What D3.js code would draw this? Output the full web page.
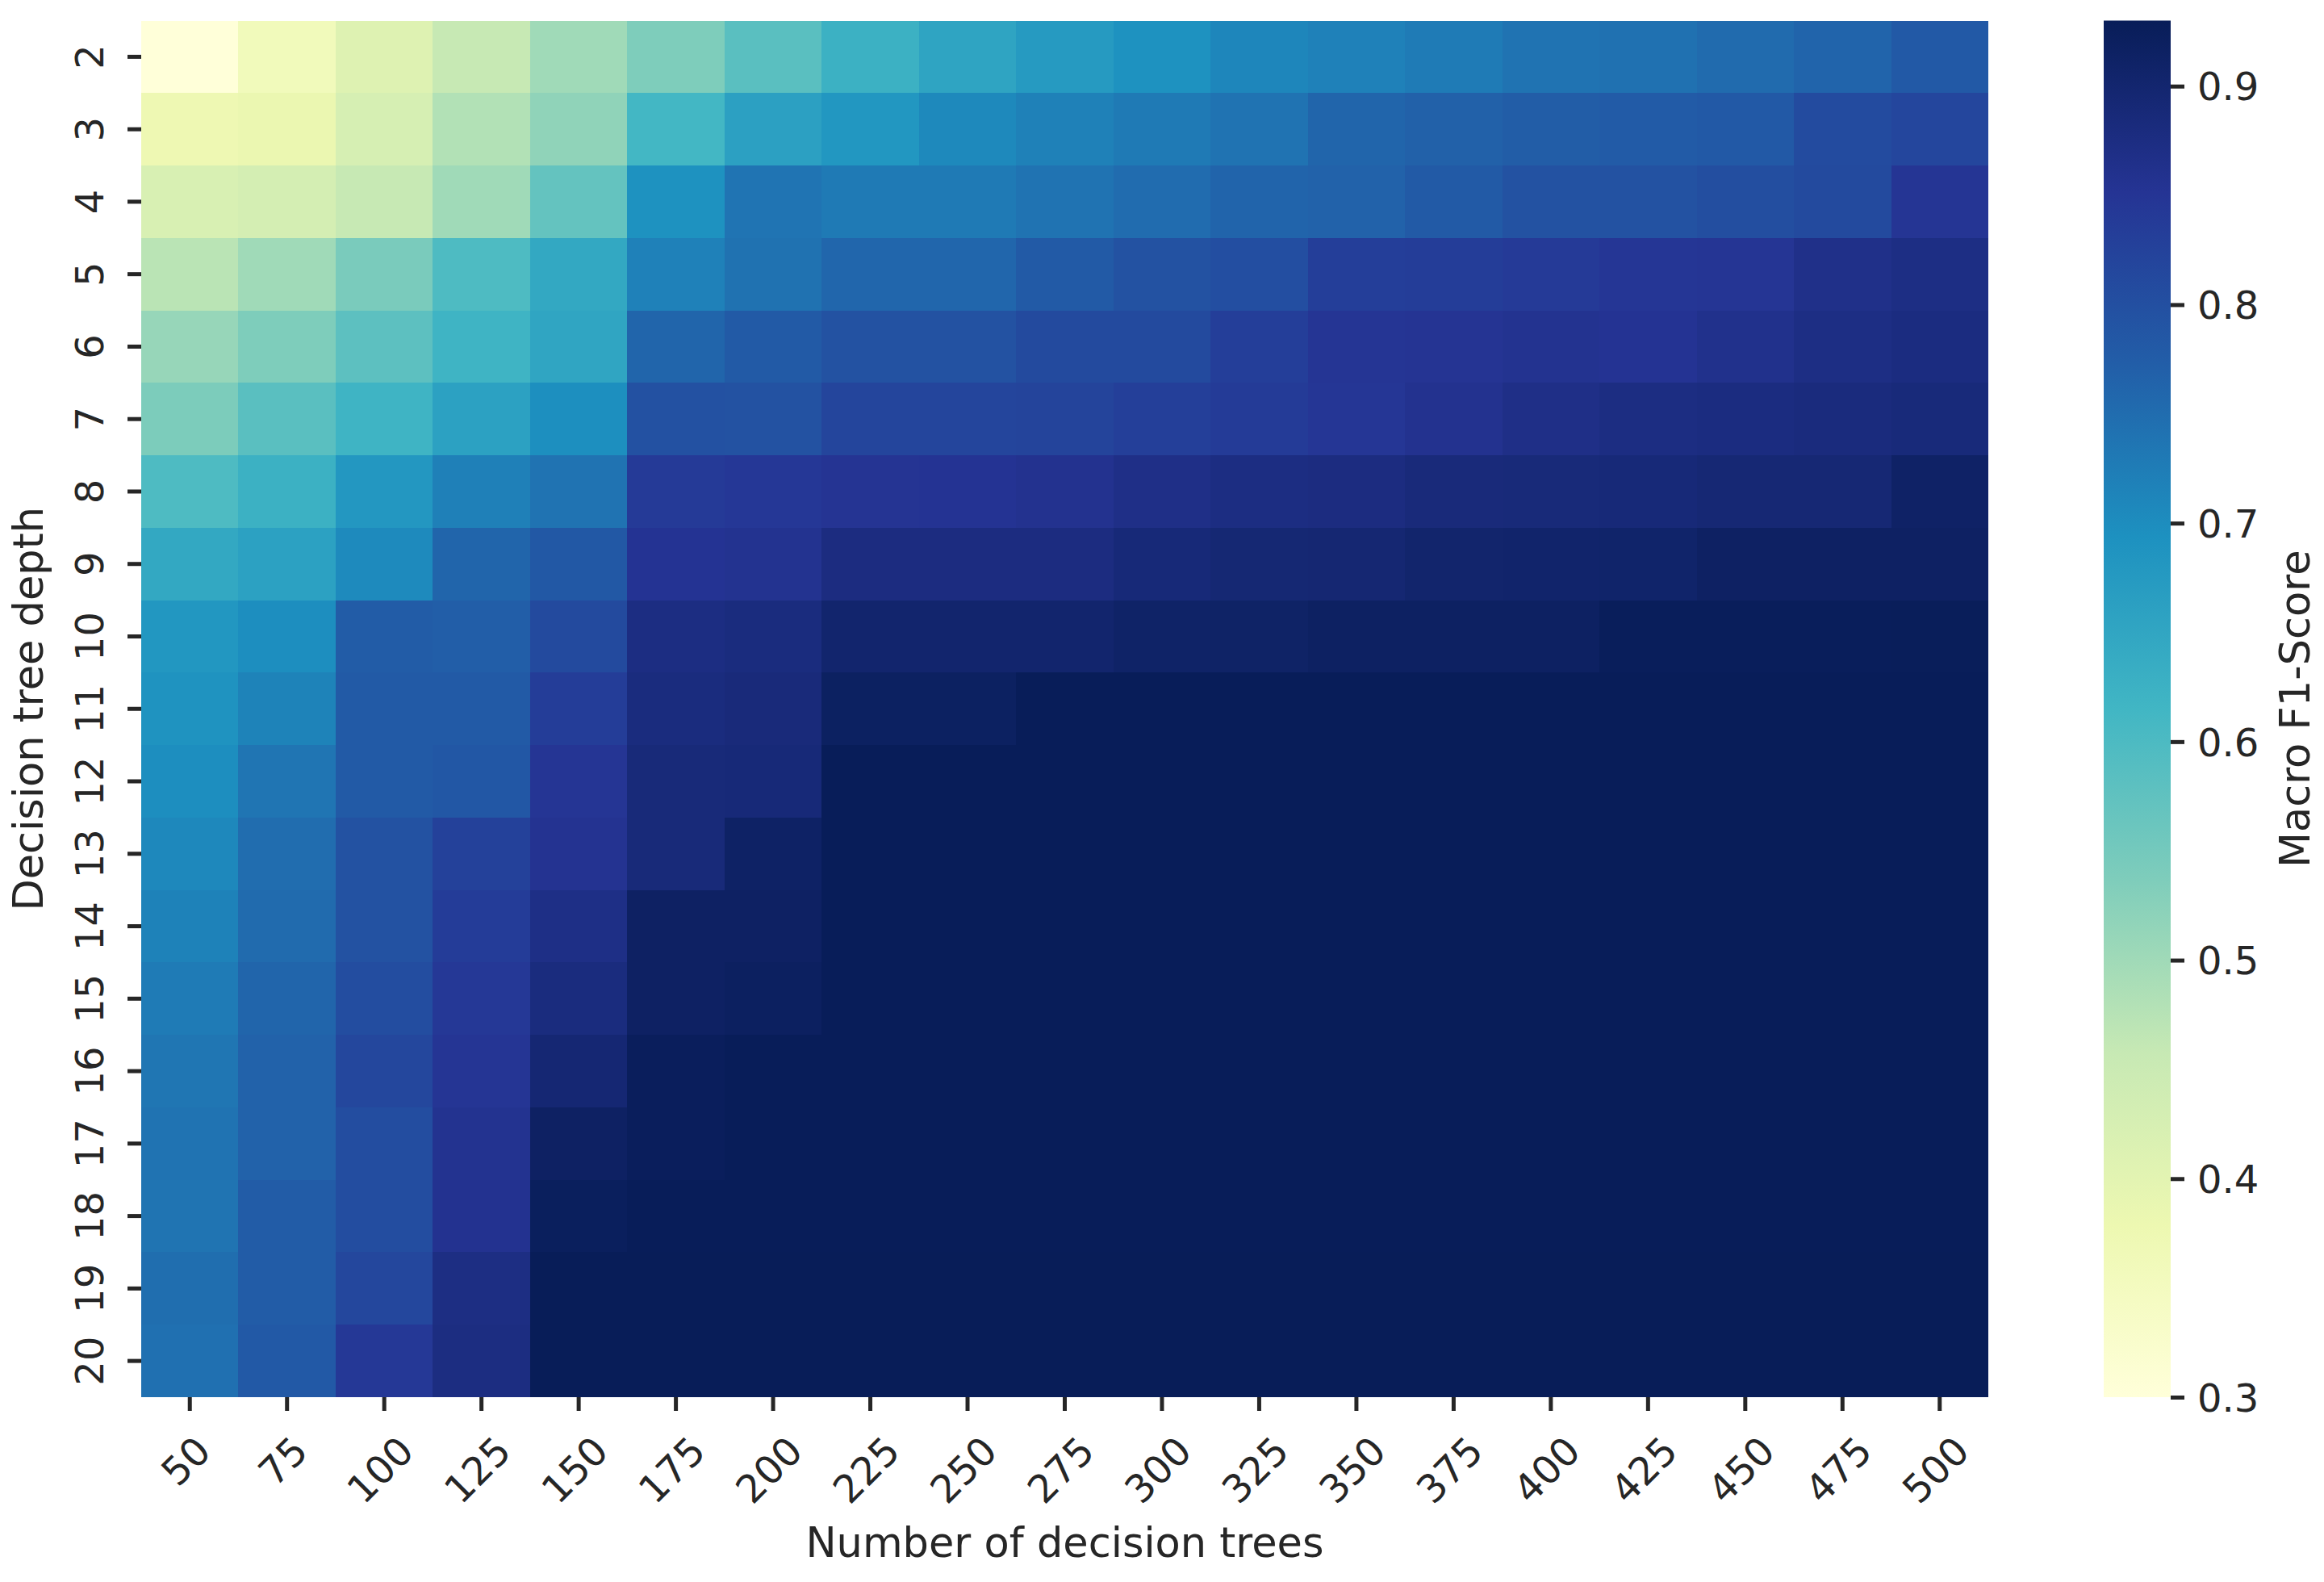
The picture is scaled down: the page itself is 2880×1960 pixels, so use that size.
<!DOCTYPE html>
<html>
<head>
<meta charset="utf-8">
<script src="https://cdn.jsdelivr.net/npm/d3@7"></script>
<style>
  body { margin: 0; background: #ffffff; }
  svg text { font-family: "DejaVu Sans", sans-serif; }
</style>
</head>
<body>
<svg id="chart" width="2880" height="1960"></svg>
<script>
// Grid search results: random forest, Macro F1 per (depth, n_trees)

const nTrees = [50, 75, 100, 125, 150, 175, 200, 225, 250, 275, 300, 325, 350, 375, 400, 425, 450, 475, 500];
const depths = [2, 3, 4, 5, 6, 7, 8, 9, 10, 11, 12, 13, 14, 15, 16, 17, 18, 19, 20];

// one row per depth, one value per number of trees
const macroF1 = [
  [0.300, 0.360, 0.410, 0.457, 0.500, 0.537, 0.583, 0.626, 0.654, 0.674, 0.692, 0.711, 0.718, 0.728, 0.740, 0.743, 0.752, 0.763, 0.782],
  [0.375, 0.382, 0.426, 0.481, 0.518, 0.612, 0.661, 0.682, 0.706, 0.719, 0.729, 0.740, 0.762, 0.768, 0.775, 0.778, 0.782, 0.808, 0.817],
  [0.422, 0.430, 0.457, 0.500, 0.570, 0.692, 0.738, 0.730, 0.730, 0.740, 0.751, 0.764, 0.766, 0.780, 0.795, 0.795, 0.803, 0.810, 0.850],
  [0.472, 0.500, 0.543, 0.598, 0.645, 0.718, 0.742, 0.760, 0.760, 0.780, 0.795, 0.802, 0.832, 0.835, 0.840, 0.848, 0.850, 0.866, 0.872],
  [0.510, 0.537, 0.580, 0.620, 0.652, 0.762, 0.780, 0.795, 0.795, 0.810, 0.810, 0.832, 0.850, 0.852, 0.856, 0.853, 0.862, 0.872, 0.878],
  [0.540, 0.583, 0.620, 0.660, 0.697, 0.797, 0.795, 0.820, 0.820, 0.822, 0.830, 0.838, 0.848, 0.858, 0.868, 0.875, 0.878, 0.882, 0.886],
  [0.598, 0.625, 0.680, 0.720, 0.740, 0.840, 0.845, 0.852, 0.853, 0.858, 0.868, 0.875, 0.877, 0.885, 0.887, 0.888, 0.893, 0.893, 0.912],
  [0.645, 0.660, 0.705, 0.762, 0.783, 0.853, 0.856, 0.877, 0.877, 0.877, 0.888, 0.894, 0.896, 0.904, 0.905, 0.907, 0.915, 0.915, 0.915],
  [0.682, 0.698, 0.777, 0.772, 0.810, 0.875, 0.880, 0.903, 0.903, 0.903, 0.910, 0.911, 0.917, 0.917, 0.917, 0.926, 0.926, 0.926, 0.927],
  [0.690, 0.716, 0.780, 0.780, 0.835, 0.880, 0.885, 0.918, 0.918, 0.929, 0.929, 0.929, 0.929, 0.929, 0.929, 0.929, 0.929, 0.929, 0.929],
  [0.698, 0.737, 0.780, 0.785, 0.850, 0.887, 0.888, 0.929, 0.929, 0.929, 0.929, 0.929, 0.929, 0.929, 0.929, 0.929, 0.929, 0.929, 0.929],
  [0.707, 0.749, 0.795, 0.826, 0.855, 0.887, 0.913, 0.929, 0.929, 0.929, 0.929, 0.929, 0.929, 0.929, 0.929, 0.929, 0.929, 0.929, 0.929],
  [0.717, 0.752, 0.795, 0.836, 0.870, 0.915, 0.915, 0.929, 0.929, 0.929, 0.929, 0.929, 0.929, 0.929, 0.929, 0.929, 0.929, 0.929, 0.929],
  [0.728, 0.762, 0.805, 0.843, 0.880, 0.915, 0.920, 0.929, 0.929, 0.929, 0.929, 0.929, 0.929, 0.929, 0.929, 0.929, 0.929, 0.929, 0.929],
  [0.736, 0.766, 0.815, 0.850, 0.895, 0.925, 0.929, 0.929, 0.929, 0.929, 0.929, 0.929, 0.929, 0.929, 0.929, 0.929, 0.929, 0.929, 0.929],
  [0.740, 0.767, 0.805, 0.856, 0.915, 0.925, 0.929, 0.929, 0.929, 0.929, 0.929, 0.929, 0.929, 0.929, 0.929, 0.929, 0.929, 0.929, 0.929],
  [0.739, 0.777, 0.805, 0.857, 0.924, 0.929, 0.929, 0.929, 0.929, 0.929, 0.929, 0.929, 0.929, 0.929, 0.929, 0.929, 0.929, 0.929, 0.929],
  [0.748, 0.777, 0.815, 0.873, 0.930, 0.930, 0.930, 0.930, 0.930, 0.930, 0.930, 0.930, 0.930, 0.930, 0.930, 0.930, 0.930, 0.930, 0.930],
  [0.744, 0.782, 0.843, 0.876, 0.930, 0.930, 0.930, 0.930, 0.930, 0.930, 0.930, 0.930, 0.930, 0.930, 0.930, 0.930, 0.930, 0.930, 0.930],
];

const colorbarTicks = [0.3, 0.4, 0.5, 0.6, 0.7, 0.8, 0.9];

// matplotlib YlGnBu anchors (linear segmented)
const ylgnbu = ["#ffffd9", "#edf8b1", "#c7e9b4", "#7fcdbb", "#41b6c4", "#1d91c0", "#225ea8", "#253494", "#081d58"];

const TXT = "#262626";
const tickFont = 48;
const labelFont = 51;

const svg = d3.select("#chart");

// plot area
const heat = { left: 175, right: 2464, top: 25.5, bottom: 1731 };
const cbar = { left: 2607, right: 2690 };

const x = d3.scaleBand().domain(nTrees).range([heat.left, heat.right]);
const y = d3.scaleBand().domain(depths).range([heat.top, heat.bottom]);

const vmin = d3.min(macroF1, (r) => d3.min(r));
const vmax = d3.max(macroF1, (r) => d3.max(r));

const color = d3
  .scaleLinear()
  .domain(ylgnbu.map((_, i) => vmin + (i / (ylgnbu.length - 1)) * (vmax - vmin)))
  .range(ylgnbu)
  .interpolate(d3.interpolateRgb)
  .clamp(true);

// flatten for the cells
const cells = [];
macroF1.forEach((row, i) => {
  row.forEach((v, j) => {
    cells.push({ depth: depths[i], trees: nTrees[j], value: v });
  });
});

svg
  .append("g")
  .selectAll("rect")
  .data(cells)
  .join("rect")
  .attr("x", (d) => x(d.trees))
  .attr("y", (d) => y(d.depth))
  .attr("width", x.bandwidth())
  .attr("height", y.bandwidth())
  .attr("fill", (d) => color(d.value))
  .attr("shape-rendering", "crispEdges");

/**
 * common styling for the d3 axes
 * @param {d3.Selection} g
 */
function styleAxis(g) {
  g.select(".domain").remove();
  g.attr("font-family", "DejaVu Sans").attr("font-size", tickFont);
  g.selectAll(".tick line").attr("stroke", TXT).attr("stroke-width", 5);
  g.selectAll(".tick text").attr("fill", TXT);
}

// x axis, labels rotated 45deg, centred under the tick
const lineH = 1.164 * tickFont;
const xAxis = svg
  .append("g")
  .attr("transform", `translate(0,${heat.bottom})`)
  .call(d3.axisBottom(x).tickSize(17).tickSizeOuter(0))
  .call(styleAxis);

xAxis
  .selectAll(".tick text")
  .attr("x", 0)
  .attr("y", 0)
  .attr("dy", "0.35em")
  .attr("text-anchor", "middle")
  .attr("transform", function () {
    let w = this.getComputedTextLength();
    let cy = 38 + (w + lineH) * 0.3536;
    return `translate(-5,${cy}) rotate(-45)`;
  });

// y axis, labels vertical
const yAxis = svg
  .append("g")
  .attr("transform", `translate(${heat.left},0)`)
  .call(d3.axisLeft(y).tickSize(17).tickSizeOuter(0))
  .call(styleAxis);

yAxis
  .selectAll(".tick text")
  .attr("x", 0)
  .attr("y", 0)
  .attr("dy", 0)
  .attr("text-anchor", "middle")
  .attr("transform", `translate(${128 - heat.left},0) rotate(-90)`);

// axis titles
svg
  .append("text")
  .attr("x", (heat.left + heat.right) / 2)
  .attr("y", 1929)
  .attr("text-anchor", "middle")
  .attr("font-size", labelFont)
  .attr("fill", TXT)
  .text("Number of decision trees");

svg
  .append("text")
  .attr("transform", `translate(53,${(heat.top + heat.bottom) / 2}) rotate(-90)`)
  .attr("text-anchor", "middle")
  .attr("font-size", labelFont)
  .attr("fill", TXT)
  .text("Decision tree depth");

// colorbar
const cScale = d3.scaleLinear().domain([vmin, vmax]).range([heat.bottom, heat.top]);

const grad = svg
  .append("defs")
  .append("linearGradient")
  .attr("id", "cbar-grad")
  .attr("x1", 0)
  .attr("y1", 1)
  .attr("x2", 0)
  .attr("y2", 0);

grad
  .selectAll("stop")
  .data(color.domain())
  .join("stop")
  .attr("offset", (d) => (d - vmin) / (vmax - vmin))
  .attr("stop-color", (d) => color(d));

svg
  .append("rect")
  .attr("x", cbar.left)
  .attr("y", heat.top)
  .attr("width", cbar.right - cbar.left)
  .attr("height", heat.bottom - heat.top)
  .attr("fill", "url(#cbar-grad)");

svg
  .append("g")
  .attr("transform", `translate(${cbar.right},0)`)
  .call(
    d3
      .axisRight(cScale)
      .tickValues(colorbarTicks)
      .tickFormat(d3.format(".1f"))
      .tickSize(17)
      .tickPadding(16)
  )
  .call(styleAxis)
  .selectAll(".tick text")
  .attr("dy", "0.36em");

svg
  .append("text")
  .attr("transform", `translate(2862,${(heat.top + heat.bottom) / 2}) rotate(-90)`)
  .attr("text-anchor", "middle")
  .attr("font-size", labelFont)
  .attr("fill", TXT)
  .text("Macro F1-Score");
</script>
</body>
</html>
